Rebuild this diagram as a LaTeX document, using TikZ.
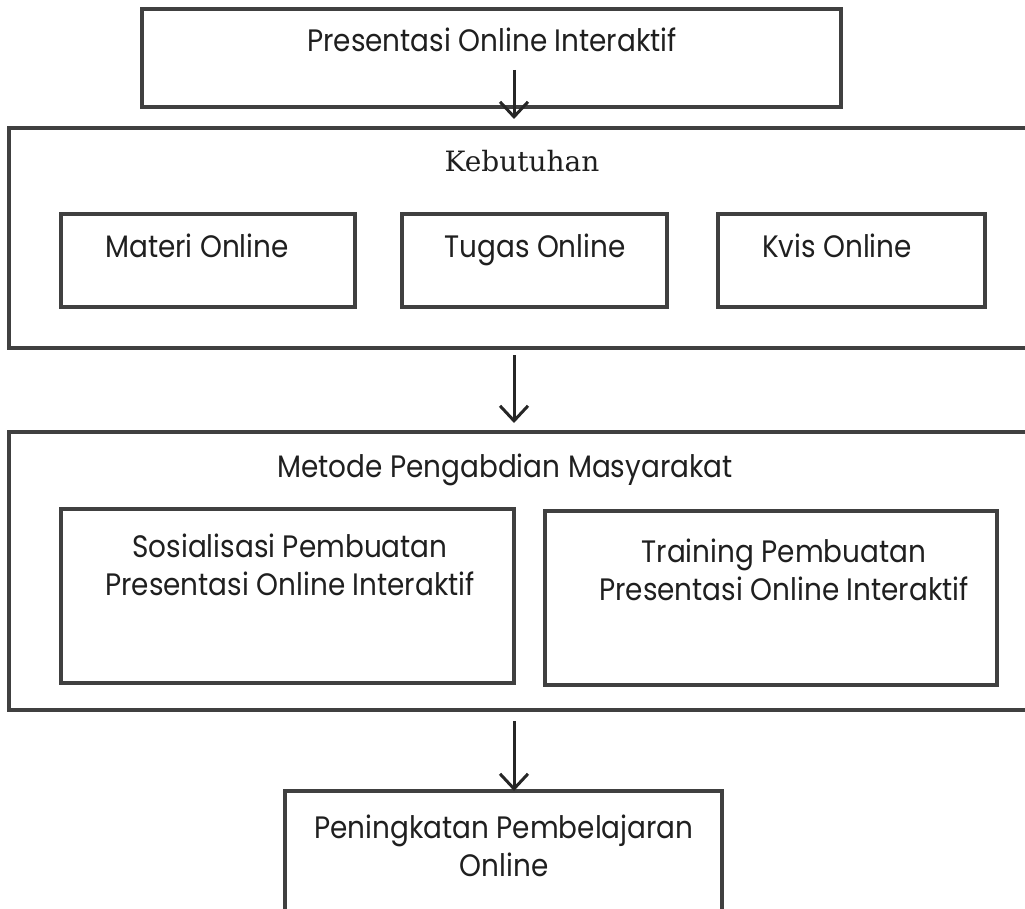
\documentclass[tikz,border=0pt]{standalone}
\usepackage{fontspec}
\setmainfont{DejaVu Serif}
\newfontfamily\gothic[FakeStretch=0.9]{Poppins}
\usetikzlibrary{arrows.meta}

\begin{document}
\begin{tikzpicture}[x=1pt,y=-1pt,
  frame/.style={draw=black!75, line width=3.2pt, inner sep=0pt, outer sep=0pt},
  lbl/.style={font=\gothic\fontsize{31}{38}\selectfont, text=black!88, align=center, inner sep=0pt, anchor=base},
  head/.style={font=\fontsize{28}{34}\selectfont, text=black!88, inner sep=0pt, anchor=base},
  flow/.style={draw=black!85, line width=3pt,
    -{Straight Barb[length=15pt,width=28pt,line width=3pt]}}]
\useasboundingbox (0,0) rectangle (1025,909);
\clip (0,0) rectangle (1025,909);

% top box
\node[frame, minimum width=699pt, minimum height=98pt] (top) at (491.5,58) {};
\node[lbl] (toptxt) at (492,52) {Presentasi Online Interaktif};

% needs block
\node[frame, minimum width=1036pt, minimum height=220pt] (needs) at (527,238) {};
\node[head] (needstxt) at (522,172) {Kebutuhan};
\node[frame, minimum width=294pt, minimum height=93pt] (materi) at (208,260.5) {};
\node[frame, minimum width=265pt, minimum height=93pt] (tugas) at (534.5,260.5) {};
\node[frame, minimum width=267pt, minimum height=93pt] (kuis) at (851.5,260.5) {};
\node[lbl] (materitxt) at (197,258) {Materi Online};
\node[lbl] (tugastxt) at (535,258) {Tugas Online};
\node[lbl] (kuistxt) at (837,258) {Kvis Online};

% method block
\node[frame, minimum width=1036pt, minimum height=278pt] (method) at (527,571) {};
\node[lbl] (methodtxt) at (505,477) {Metode Pengabdian Masyarakat};
\node[frame, minimum width=453pt, minimum height=174pt] (sos) at (287.5,596) {};
\node[frame, minimum width=452pt, minimum height=174pt] (train) at (771,598) {};
\node[lbl] (sostxt) at (290,595) {Sosialisasi Pembuatan\\Presentasi Online Interaktif};
\node[lbl] (traintxt) at (784,600) {Training Pembuatan\\Presentasi Online Interaktif};

% result box
\node[frame, minimum width=437pt, minimum height=159pt] (result) at (503.5,870.5) {};
\node[lbl] (resulttxt) at (504,876) {Peningkatan Pembelajaran\\Online};

% connectors
\coordinate (s1) at (514,70);
\coordinate (e1) at (514,119);
\coordinate (s2) at (514,355);
\coordinate (e2) at (514,423);
\coordinate (s3) at (514,721);
\draw[flow] (s1) -- (e1);
\draw[flow] (s2) -- (e2);
\draw[flow] (s3) -- (result.north -| s3);
\end{tikzpicture}
\end{document}
